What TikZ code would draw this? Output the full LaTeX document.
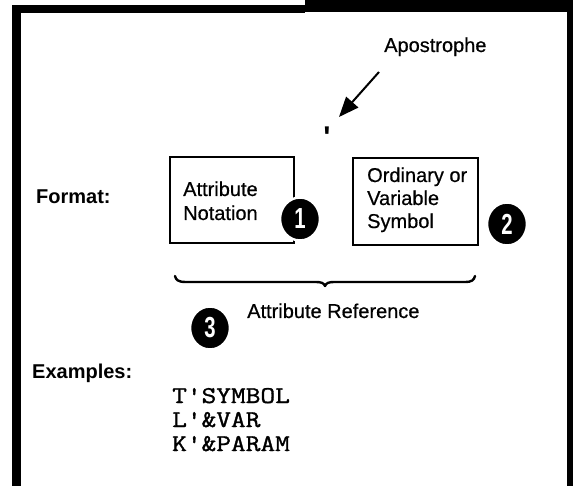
\documentclass[tikz,border=0pt]{standalone}
\usepackage{fontspec}
\setmainfont{Liberation Sans}
\newfontfamily\labelfont[FakeBold=0.6]{Liberation Sans}
\newfontfamily\codefont[FakeBold=1.2]{Latin Modern Mono}
\usetikzlibrary{arrows.meta,shapes.geometric}
\begin{document}
\begin{tikzpicture}[x=1pt,y=-1pt,
  label/.style={inner sep=0pt,anchor=base west,font=\labelfont\fontsize{20}{20}\selectfont},
  headlabel/.style={inner sep=0pt,anchor=base west,font=\fontsize{20}{20}\selectfont\bfseries},
  fieldbox/.style={draw,line width=2pt,inner sep=0pt},
  numdot/.style={ellipse,fill=black,draw=white,line width=2.5pt,
    minimum width=40pt,minimum height=43pt,inner sep=0pt,text=white,
    font=\fontsize{29}{29}\selectfont\bfseries},
  codeline/.style={inner sep=0pt,anchor=base west,
    font=\codefont\fontsize{24}{24}\selectfont},
  pointer/.style={line width=2pt,-{Triangle[length=20pt,width=16pt]}},
  frame/.style={fill=black}
]
\useasboundingbox (0,0) rectangle (573,486);

% outer frame (open at the bottom)
\fill[frame] (12,5) rectangle (305,13);
\fill[frame] (305,0) rectangle (573,12);
\fill[frame] (12,5) rectangle (21,486);
\fill[frame] (567,0) rectangle (573,486);

% apostrophe label and its pointer
\node[label] (apos) at (384,52) {Apostrophe};
\node[inner sep=0pt,font=\fontsize{30}{30}\selectfont\bfseries] (mark) at (327,137) {\textquotesingle};
\coordinate (tail) at (379,72);
\coordinate (tip) at (339,117);
\draw[pointer] (tail) -- (tip);

% format line
\node[headlabel] (format) at (36,204) {Format:};
\draw[fieldbox] (170,157) rectangle (294,243);
\node[label] (attr) at (183,196) {Attribute};
\node[label] (nota) at (183,220) {Notation};
\draw[fieldbox] (353,158) rectangle (478,245);
\node[label] (ordi) at (367,182) {Ordinary or};
\node[label] (vari) at (367,205) {Variable};
\node[label] (symb) at (367,228) {Symbol};
\node[numdot] (n1) at (300,219) {\scalebox{0.7}[1]{1}};
\node[numdot] (n2) at (507,224) {\scalebox{0.7}[1]{2}};

% brace under both fields
\draw[line width=2.4pt,line cap=round,line join=round]
  (175,276) .. controls (176,280) and (178,282) .. (186,282) -- (316,282)
  .. controls (321,282) and (324,283) .. (325,286)
  .. controls (326,283) and (329,282) .. (334,282) -- (465,282)
  .. controls (472,282) and (474,280) .. (475,276);

\node[label] (ref) at (247,318) {Attribute Reference};
\node[numdot] (n3) at (210,328) {\scalebox{0.7}[1]{3}};

% examples
\node[headlabel] (examples) at (32,378) {Examples:};
\node[codeline] (ex1) at (172,403) {\scalebox{1.19}[1]{T\textquotesingle SYMBOL}};
\node[codeline] (ex2) at (172,427) {\scalebox{1.19}[1]{L\textquotesingle\&VAR}};
\node[codeline] (ex3) at (172,451) {\scalebox{1.19}[1]{K\textquotesingle\&PARAM}};
\end{tikzpicture}
\end{document}
